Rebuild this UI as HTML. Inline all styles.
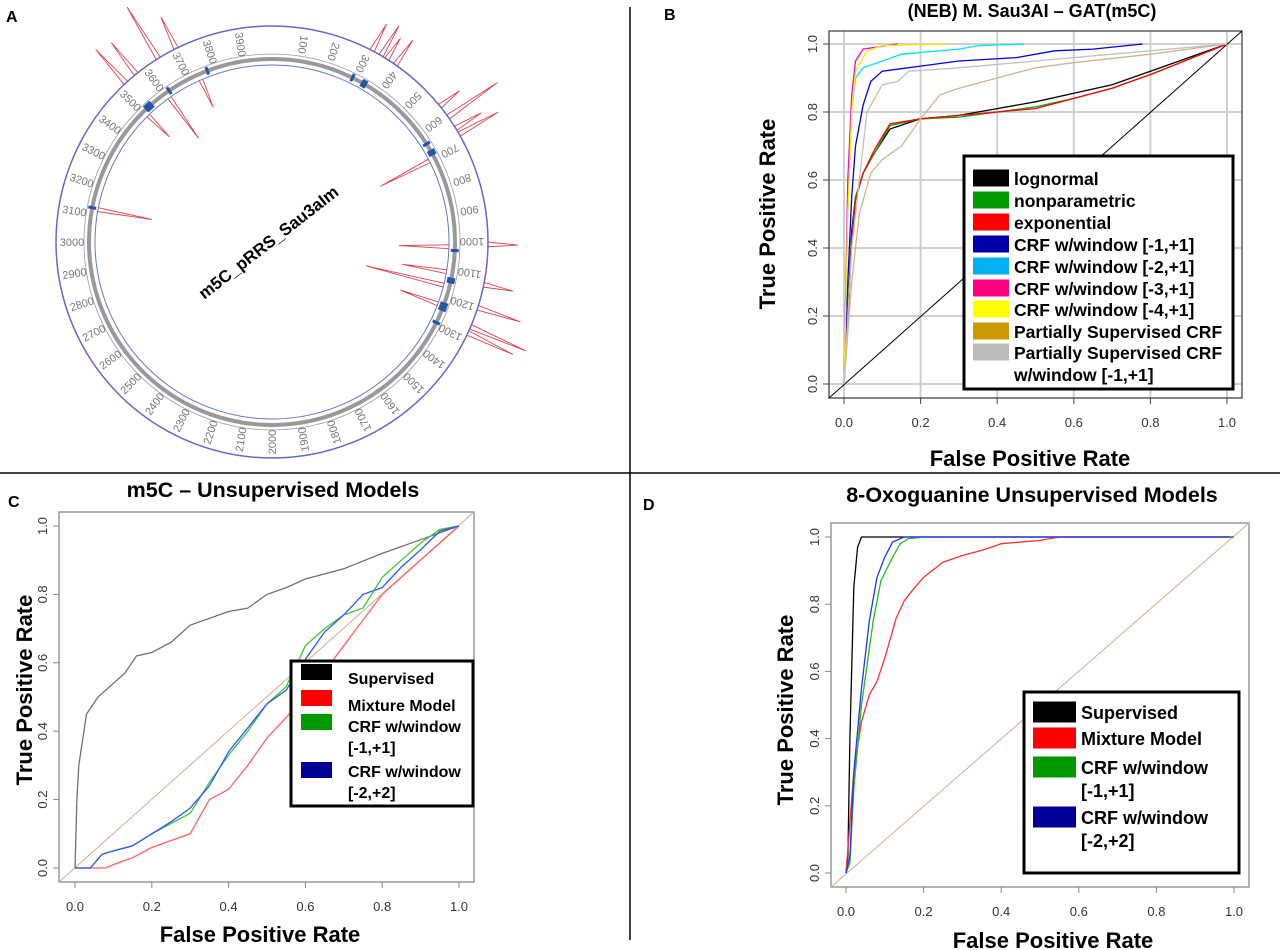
<!DOCTYPE html>
<html><head><meta charset="utf-8">
<style>
html,body{margin:0;padding:0;background:#fff;}
svg{display:block;font-family:"Liberation Sans",Arial,sans-serif;}
</style></head>
<body>
<svg id="fig" width="1280" height="950" viewBox="0 0 1280 950" xmlns="http://www.w3.org/2000/svg">
<line x1="630" y1="7" x2="630" y2="940" stroke="#000" stroke-width="1.5"/>
<line x1="0" y1="473" x2="1280" y2="473" stroke="#000" stroke-width="1.5"/>
<text x="6" y="22" font-size="16" font-weight="bold">A</text>
<text x="664" y="20" font-size="16" font-weight="bold">B</text>
<text x="8" y="507" font-size="16" font-weight="bold">C</text>
<text x="643" y="510" font-size="16" font-weight="bold">D</text>
<g id="panelA"></g>
<g id="panelB"></g>
<g id="panelC"></g>
<g id="panelD"></g>
</svg>
<script>
// ---- Panel B data ----
const bLabels = ["lognormal","nonparametric","exponential","CRF w/window [-1,+1]","CRF w/window [-2,+1]","CRF w/window [-3,+1]","CRF w/window [-4,+1]","Partially Supervised CRF","Partially Supervised CRF"];
const bColors = ["#000000","#009900","#ff0000","#0000aa","#00b0f0","#ff0080","#ffff00","#cc9900","#bbbbbb"];
const bLineColors = ["#000000","#00aa00","#ff0000","#0000ee","#00e5ee","#ff00cc","#ffee00","#d2b48c","#c0c0c0"];
const bLogX = [0,0.01,0.02,0.03,0.05,0.08,0.12,0.2,0.3,0.4,0.5,0.6,0.7,0.8,0.9,1];
const bLogY = [0,0.2,0.45,0.55,0.62,0.68,0.75,0.78,0.79,0.81,0.83,0.855,0.88,0.92,0.96,1];
const bNonX = [0,0.01,0.02,0.03,0.05,0.08,0.12,0.2,0.3,0.4,0.5,0.6,0.7,0.8,0.9,1];
const bNonY = [0,0.18,0.43,0.55,0.62,0.68,0.76,0.78,0.785,0.8,0.815,0.84,0.87,0.91,0.955,1];
const bExpX = [0,0.01,0.02,0.03,0.05,0.08,0.12,0.2,0.3,0.4,0.5,0.6,0.7,0.8,0.9,1];
const bExpY = [0,0.17,0.42,0.54,0.62,0.69,0.765,0.78,0.79,0.8,0.81,0.84,0.87,0.91,0.955,1];
const bC1X = [0,0.01,0.02,0.03,0.05,0.07,0.1,0.2,0.3,0.45,0.55,0.65,0.78];
const bC1Y = [0,0.3,0.55,0.7,0.82,0.89,0.92,0.935,0.95,0.96,0.98,0.985,1];
const bC2X = [0,0.01,0.02,0.03,0.05,0.1,0.15,0.3,0.35,0.47];
const bC2Y = [0,0.5,0.8,0.9,0.93,0.95,0.97,0.985,0.995,1];
const bC3X = [0,0.005,0.01,0.02,0.03,0.05,0.14];
const bC3Y = [0,0.3,0.6,0.85,0.95,0.985,1];
const bC4X = [0,0.01,0.02,0.03,0.06,0.1,0.27];
const bC4Y = [0,0.5,0.8,0.92,0.98,0.995,1];
const bPsX = [0,0.02,0.04,0.07,0.1,0.15,0.2,0.25,0.3,0.4,0.5,0.6,0.8,1];
const bPsY = [0,0.3,0.5,0.62,0.66,0.7,0.78,0.85,0.87,0.9,0.93,0.945,0.97,1];
const bPwX = [0,0.02,0.04,0.06,0.1,0.14,0.17,0.3,0.5,0.7,1];
const bPwY = [0,0.4,0.6,0.8,0.88,0.89,0.92,0.93,0.95,0.97,1];
// ---- Panel C data ----
const cLabels = ["Supervised","Mixture Model","CRF w/window","CRF w/window"];
const cLabels2 = ["","","[-1,+1]","[-2,+2]"];
const cColors = ["#000000","#ff0000","#009900","#000099"];
const cLineColors = ["#707070","#ff6060","#33cc33","#3355ff"];
const cSupX = [0,0.005,0.01,0.03,0.06,0.1,0.13,0.16,0.2,0.25,0.3,0.4,0.45,0.5,0.55,0.6,0.65,0.7,0.8,0.9,1];
const cSupY = [0,0.2,0.3,0.45,0.5,0.54,0.57,0.62,0.63,0.66,0.71,0.75,0.76,0.8,0.82,0.845,0.86,0.875,0.92,0.96,1];
const cMixX = [0,0.08,0.1,0.15,0.2,0.25,0.3,0.35,0.4,0.45,0.5,0.6,0.7,0.8,0.9,1];
const cMixY = [0,0,0.01,0.03,0.06,0.08,0.1,0.2,0.23,0.3,0.38,0.5,0.65,0.8,0.9,1];
const cCrf1X = [0,0.04,0.07,0.1,0.15,0.2,0.25,0.3,0.35,0.4,0.45,0.5,0.55,0.6,0.65,0.7,0.75,0.8,0.85,0.9,0.95,1];
const cCrf1Y = [0,0,0.04,0.05,0.065,0.1,0.13,0.16,0.25,0.33,0.4,0.48,0.53,0.65,0.7,0.74,0.76,0.85,0.9,0.95,0.99,1];
const cCrf2X = [0,0.04,0.07,0.1,0.15,0.2,0.25,0.3,0.35,0.4,0.45,0.5,0.55,0.6,0.65,0.7,0.75,0.8,0.85,0.9,0.95,1];
const cCrf2Y = [0,0,0.04,0.05,0.065,0.1,0.135,0.175,0.24,0.34,0.41,0.48,0.52,0.61,0.69,0.74,0.8,0.82,0.88,0.93,0.985,1];
// ---- Panel D data ----
const dLabels = ["Supervised","Mixture Model","CRF w/window","CRF w/window"];
const dLabels2 = ["","","[-1,+1]","[-2,+2]"];
const dColors = ["#000000","#ff0000","#009900","#000099"];
const dLineColors = ["#000000","#ff3030","#22bb22","#2233ff"];
const dSupX = [0,0.005,0.01,0.02,0.03,0.04,1];
const dSupY = [0,0.05,0.4,0.85,0.97,1,1];
const dMixX = [0,0.02,0.04,0.06,0.08,0.1,0.13,0.15,0.17,0.2,0.25,0.3,0.35,0.4,0.5,0.55,1];
const dMixY = [0,0.3,0.45,0.53,0.57,0.64,0.76,0.81,0.84,0.88,0.925,0.945,0.96,0.98,0.99,1,1];
const dCrf1X = [0,0.01,0.02,0.04,0.07,0.09,0.12,0.14,0.16,0.2,1];
const dCrf1Y = [0,0.03,0.25,0.5,0.75,0.87,0.94,0.98,0.995,1,1];
const dCrf2X = [0,0.01,0.02,0.04,0.06,0.08,0.1,0.12,0.15,0.99];
const dCrf2Y = [0,0.05,0.3,0.55,0.75,0.88,0.94,0.985,1,1];
const tickVals = [0,0.2,0.4,0.6,0.8,1.0];
const tickLabels = ["0.0","0.2","0.4","0.6","0.8","1.0"];
// ---- Panel A data ----
const posLabels = [100,200,300,400,500,600,700,800,900,1000,1100,1200,1300,1400,1500,1600,1700,1800,1900,2000,2100,2200,2300,2400,2500,2600,2700,2800,2900,3000,3100,3200,3300,3400,3500,3600,3700,3800,3900];
const spikePos = [300,330,350,380,560,600,640,660,690,1000,1010,1100,1120,1150,1190,1220,1250,1270,3110,3500,3520,3560,3600,3640,3700,3730];
const spikeLen = [30,35,25,30,25,60,30,45,-55,30,-50,-45,30,-80,45,-40,60,50,-55,-30,45,40,-50,60,35,-30];
const markPos = [290,330,340,640,670,680,1030,1130,1140,1220,1230,1240,1290,3120,3520,3530,3540,3620,3770];

const NS="http://www.w3.org/2000/svg";
function mk(parent,tag,attrs){const e=document.createElementNS(NS,tag);for(const k in attrs)e.setAttribute(k,attrs[k]);parent.appendChild(e);return e;}

function roc(cfg){
  const g=document.getElementById(cfg.id);
  const sx=v=>cfg.x0+(cfg.x1-cfg.x0)*v;
  const sy=v=>cfg.y0+(cfg.y1-cfg.y0)*v;
  const t=mk(g,'text',{x:cfg.titleX,y:cfg.titleY,'font-size':cfg.titleFs,'font-weight':'bold','text-anchor':'middle'});
  t.textContent=cfg.title;
  
  
  if(cfg.grid){
    tickVals.forEach(v=>{
      const a=mk(g,'line',{x1:sx(v),x2:sx(v),y1:cfg.boxT,y2:cfg.boxB,stroke:'#d0d0d0','stroke-width':2});
      
      
      const b=mk(g,'line',{x1:cfg.boxL,x2:cfg.boxR,y1:sy(v),y2:sy(v),stroke:'#d0d0d0','stroke-width':2});
      
      
    });
  }
  const box=mk(g,'rect',{x:cfg.boxL,y:cfg.boxT,width:cfg.boxR-cfg.boxL,height:cfg.boxB-cfg.boxT,fill:'none',stroke:cfg.boxColor,'stroke-width':1.3});
  
  
  tickVals.forEach((v,i)=>{
    const a=mk(g,'line',{x1:sx(v),x2:sx(v),y1:cfg.boxB,y2:cfg.boxB+6,stroke:cfg.boxColor});
    
    
    const tx=mk(g,'text',{x:sx(v),y:cfg.boxB+29,'font-size':13,'text-anchor':'middle',fill:'#333'});
    tx.textContent=tickLabels[i];
    
    
    const b=mk(g,'line',{x1:cfg.boxL-6,x2:cfg.boxL,y1:sy(v),y2:sy(v),stroke:cfg.boxColor});
    
    
    const ty=mk(g,'text',{x:0,y:0,'font-size':13,'text-anchor':'middle',fill:'#333',transform:`translate(${cfg.boxL-12},${sy(v)}) rotate(-90)`});
    ty.textContent=tickLabels[i];
    
    
  });
  const d=mk(g,'line',{x1:cfg.boxL,y1:cfg.boxB,x2:cfg.boxR,y2:cfg.boxT,stroke:cfg.diagColor,'stroke-width':1});
  
  
  cfg.series.forEach((s,i)=>{
    const pts=s[0].map((x,j)=>sx(x).toFixed(1)+','+sy(s[1][j]).toFixed(1)).join(' ');
    const p=mk(g,'polyline',{points:pts,fill:'none',stroke:cfg.lineColors[i],'stroke-width':1.3});
    
    
  });
  const xl=mk(g,'text',{x:cfg.xlabX,y:cfg.xlabY,'font-size':22,'font-weight':'bold','text-anchor':'middle'});
  xl.textContent='False Positive Rate';
  
  
  const yl=mk(g,'text',{x:0,y:0,'font-size':22,'font-weight':'bold','text-anchor':'middle',transform:`translate(${cfg.ylabX},${cfg.ylabY}) rotate(-90)`});
  yl.textContent='True Positive Rate';
  
  
  const L=cfg.leg;
  const lg=mk(g,'g',{});
  
  
  const lb=mk(lg,'rect',{x:L.x,y:L.y,width:L.w,height:L.h,fill:'#fff',stroke:'#000','stroke-width':3});
  
  
  cfg.labels.forEach((lab,i)=>{
    const ry=L.rows[i];
    const to=L.tos?L.tos[i]:L.to;
    const sw=mk(lg,'rect',{x:L.sx,y:ry-L.sh/2,width:L.sw,height:L.sh,fill:cfg.colors[i]});
    
    
    const tx=mk(lg,'text',{x:L.tx,y:ry+to,'font-size':L.fs,'font-weight':'bold'});
    tx.textContent=lab;
    
    
    if(cfg.labels2 && cfg.labels2[i]){
      const t2=mk(lg,'text',{x:L.tx,y:ry+to+L.lh,'font-size':L.fs,'font-weight':'bold'});
      t2.textContent=cfg.labels2[i];
      
      
    }
  });
}

roc({id:'panelB',x0:844,x1:1227,y0:384,y1:44,boxL:829,boxR:1242,boxT:31,boxB:398,boxColor:'#444',diagColor:'#000',grid:true,
  title:'(NEB) M. Sau3AI – GAT(m5C)',titleFs:18,titleX:1032,titleY:17,xlabX:1030,xlabY:466,ylabX:775,ylabY:214,
  series:[[bLogX,bLogY],[bNonX,bNonY],[bExpX,bExpY],[bC1X,bC1Y],[bC2X,bC2Y],[bC3X,bC3Y],[bC4X,bC4Y],[bPsX,bPsY],[bPwX,bPwY]],
  lineColors:bLineColors,colors:bColors,labels:bLabels,labels2:["","","","","","","","","w/window [-1,+1]"],
  leg:{x:964,y:156,w:269,h:233,sx:973,sw:36,sh:17,tx:1014,to:7,fs:17.5,lh:22,rows:[178,200,222,244,266,288,309,331,352]}});

roc({id:'panelC',x0:75,x1:459,y0:868,y1:526,boxL:59,boxR:474,boxT:512,boxB:882,boxColor:'#888',diagColor:'#d4a99a',grid:false,
  title:'m5C – Unsupervised Models',titleFs:21.5,titleX:273,titleY:497,xlabX:260,xlabY:942,ylabX:32,ylabY:690,
  series:[[cSupX,cSupY],[cMixX,cMixY],[cCrf1X,cCrf1Y],[cCrf2X,cCrf2Y]],
  lineColors:cLineColors,colors:cColors,labels:cLabels,labels2:cLabels2,
  leg:{x:291,y:661,w:182,h:145,sx:301,sw:31,sh:16,tx:348,tos:[12,13,10,7],fs:16,lh:21,rows:[672,698,722,770]}});

roc({id:'panelD',x0:846,x1:1234,y0:873,y1:537,boxL:831,boxR:1249,boxT:523,boxB:887,boxColor:'#888',diagColor:'#d4a99a',grid:false,
  title:'8-Oxoguanine Unsupervised Models',titleFs:21.5,titleX:1032,titleY:502,xlabX:1053,xlabY:948,ylabX:793,ylabY:710,
  series:[[dSupX,dSupY],[dMixX,dMixY],[dCrf1X,dCrf1Y],[dCrf2X,dCrf2Y]],
  lineColors:dLineColors,colors:dColors,labels:dLabels,labels2:dLabels2,
  leg:{x:1024,y:692,w:215,h:181,sx:1033,sw:43,sh:21,tx:1081,to:7,fs:18,lh:23,rows:[712,738,767,817]}});

(function(){
  const g=document.getElementById('panelA');
  const cx=272,cy=242,L=4000;
  const ang=p=>(p/L)*2*Math.PI-Math.PI/2;
  const pt=(p,r)=>[cx+r*Math.cos(ang(p)),cy+r*Math.sin(ang(p))];
  const o=mk(g,'circle',{cx,cy,r:216,fill:'none',stroke:'#6666cc','stroke-width':1.5});
  
  
  const o2=mk(g,'circle',{cx,cy,r:188,fill:'none',stroke:'#9999aa','stroke-width':0.8});
  
  
  const r1=mk(g,'circle',{cx,cy,r:183,fill:'none',stroke:'#999','stroke-width':4});
  
  
  const r2=mk(g,'circle',{cx,cy,r:177,fill:'none',stroke:'#6677cc','stroke-width':1});
  
  
  posLabels.forEach(p=>{
    const [x,y]=pt(p,200);
    const a=ang(p)*180/Math.PI+90;
    const t=mk(g,'text',{x:0,y:0,'font-size':11,fill:'#777','text-anchor':'middle',transform:`translate(${x.toFixed(1)},${y.toFixed(1)}) rotate(${(a+90).toFixed(1)}) translate(0,4)`});
    t.textContent=p;
    
    
  });
  spikePos.forEach((p,i)=>{
    const base=spikeLen[i]>0?216:177;
    const [x1,y1]=pt(p,base);
    const [x2,y2]=pt(p+8,base+spikeLen[i]);
    const [x3,y3]=pt(p+14,base);
    const s=mk(g,'polyline',{points:`${x1},${y1} ${x2},${y2} ${x3},${y3}`,fill:'none',stroke:'#e04050','stroke-width':0.9});
    
    
  });
  markPos.forEach(p=>{
    const [x1,y1]=pt(p,179);
    const [x2,y2]=pt(p,187);
    const m=mk(g,'line',{x1,y1,x2,y2,stroke:'#2255aa','stroke-width':3});
    
    
  });
  const ct=mk(g,'text',{x:0,y:0,'font-size':17,'font-weight':'bold','text-anchor':'middle',transform:`translate(${cx},${cy+5}) rotate(-38)`});
  ct.textContent='m5C_pRRS_Sau3aIm';
  
  
})();
</script>
</body></html>
